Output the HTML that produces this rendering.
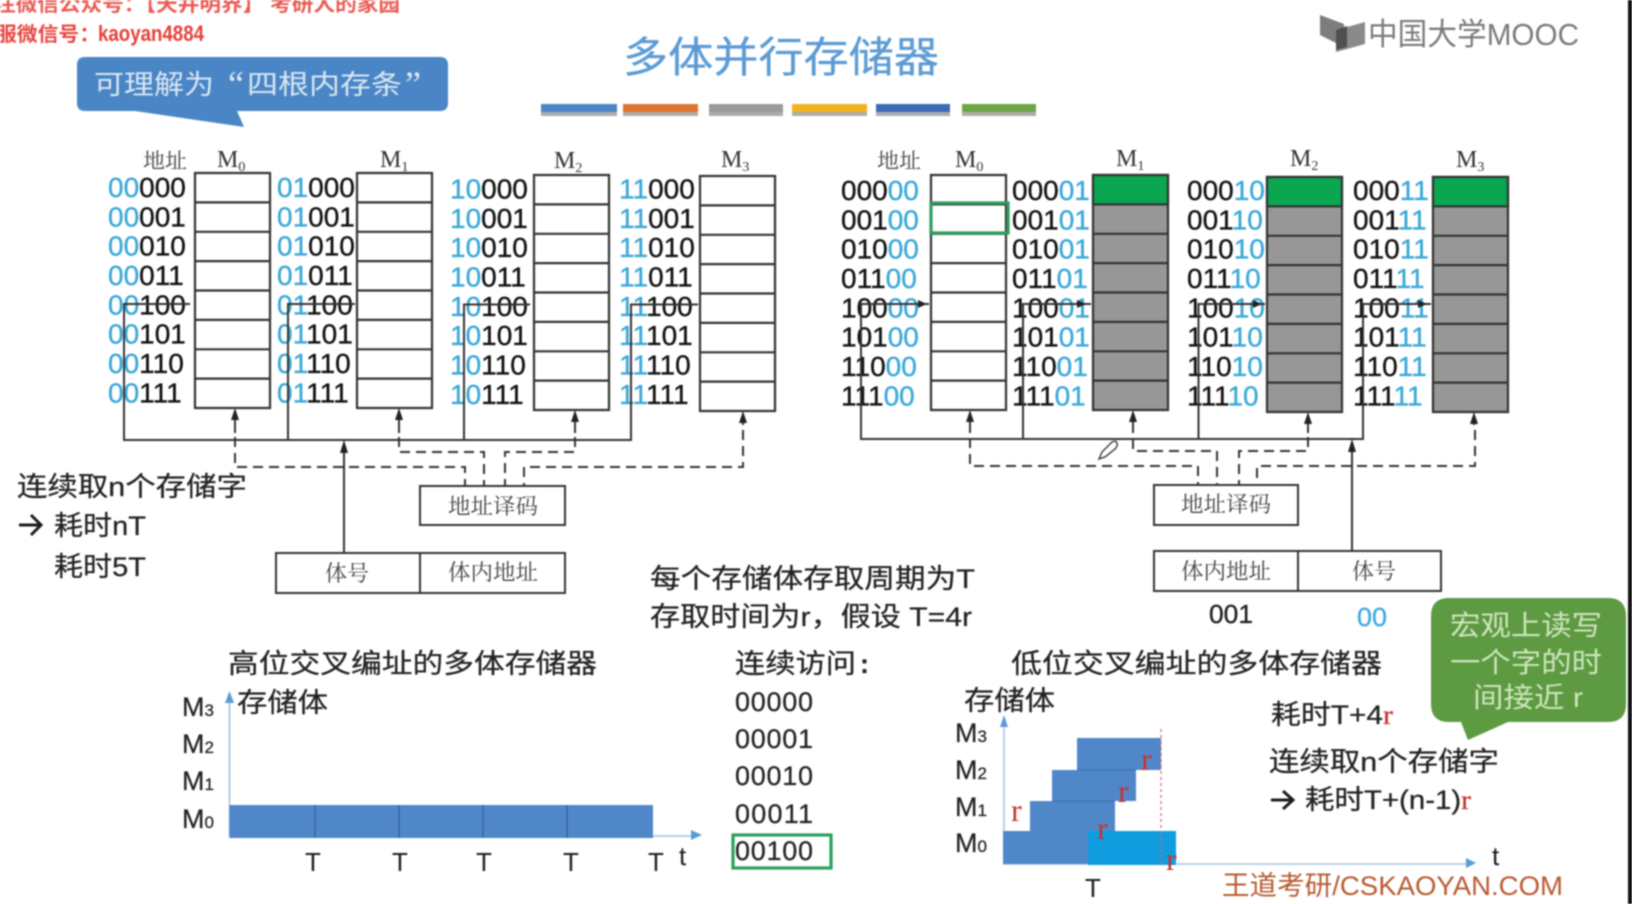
<!DOCTYPE html>
<html>
<head>
<meta charset="utf-8">
<style>
html,body{margin:0;padding:0;background:#fff;width:1632px;height:904px;overflow:hidden}
svg{display:block;filter:blur(.7px)}
text{font-family:"Liberation Sans","Noto Sans CJK SC",sans-serif;fill:#1c1c1c}
.a{font-size:28px;fill:#111;stroke:#111;stroke-width:.35px}
.a tspan{fill:#3aa8d8;stroke:#3aa8d8}
.s{font-family:"Liberation Serif","Noto Serif CJK SC",serif;fill:#444}
.m{font-family:"Liberation Serif","Noto Serif CJK SC",serif;font-size:24px;fill:#333}
.c{font-size:27px;fill:#222;stroke:#222;stroke-width:.25px}
.r{font-family:"Liberation Serif",serif;font-size:32px;fill:#c8322e}
.ln{fill:none;stroke:#333;stroke-width:2}
.d{fill:none;stroke:#333;stroke-width:2;stroke-dasharray:10 6}
</style>
</head>
<body>
<svg width="1632" height="904" viewBox="0 0 1632 904" xmlns="http://www.w3.org/2000/svg">
<defs>
<path id="col" d="M0 0H75V235H0Z M0 29.4H75 M0 58.8H75 M0 88.1H75 M0 117.5H75 M0 146.9H75 M0 176.3H75 M0 205.6H75" stroke="#333" stroke-width="2.2"/>
</defs>
<rect width="1632" height="904" fill="#fff"/>
<rect x="1628" y="0" width="4" height="904" fill="#111"/>

<!-- watermark -->
<text x="-6" y="11" font-size="20" font-weight="bold" style="fill:#ea5a52" textLength="406" lengthAdjust="spacingAndGlyphs">注微信公众号：【天井明界】 考研人的家园</text>
<text x="-4" y="41" font-size="20" font-weight="bold" style="fill:#e8463f" textLength="104" lengthAdjust="spacingAndGlyphs">服微信号：</text>
<text x="98" y="41" font-size="22" font-weight="bold" style="fill:#e5403a" textLength="106" lengthAdjust="spacingAndGlyphs">kaoyan4884</text>

<!-- title -->
<text x="623" y="72" font-size="42" style="fill:#5b9bd5;stroke:#5b9bd5;stroke-width:.3px" textLength="316" lengthAdjust="spacingAndGlyphs">多体并行存储器</text>
<g>
<rect x="541" y="107" width="76" height="9" fill="#777" opacity=".6"/>
<rect x="623" y="107" width="75" height="9" fill="#777" opacity=".6"/>
<rect x="709" y="107" width="74" height="9" fill="#777" opacity=".6"/>
<rect x="792" y="107" width="75" height="9" fill="#777" opacity=".6"/>
<rect x="876" y="107" width="74" height="9" fill="#777" opacity=".6"/>
<rect x="962" y="107" width="74" height="9" fill="#777" opacity=".6"/>
<rect x="541" y="104" width="76" height="8" fill="#4a86c4"/>
<rect x="623" y="104" width="75" height="8" fill="#dd7430"/>
<rect x="709" y="104" width="74" height="8" fill="#9a9a9a"/>
<rect x="792" y="104" width="75" height="8" fill="#f2b31c"/>
<rect x="876" y="104" width="74" height="8" fill="#3d69b5"/>
<rect x="962" y="104" width="74" height="8" fill="#6ba545"/>
</g>

<!-- logo -->
<polygon points="1320,15 1344,24 1344,47 1320,35" fill="#7d7d7d"/>
<polygon points="1336,52 1336,30 1365,22 1365,44" fill="#8a8a8a"/>
<polygon points="1336,30 1347,26 1347,47 1336,50" fill="#4f4f4f"/>
<text x="1368" y="45" font-size="31" style="fill:#7a7a7a" textLength="211" lengthAdjust="spacingAndGlyphs">中国大学MOOC</text>

<!-- blue bubble -->
<path d="M85 57H440Q448 57 448 65V103Q448 111 440 111H237L244 127L135 111H85Q77 111 77 103V65Q77 57 85 57Z" fill="#4a86c5"/>
<text x="94" y="94" font-size="27" style="fill:#dbe7f3" textLength="120" lengthAdjust="spacingAndGlyphs">可理解为</text>
<text x="228" y="96" font-size="36" style="font-family:'Liberation Serif',serif;fill:#dbe7f3">“</text>
<text x="247" y="94" font-size="27" style="fill:#dbe7f3" textLength="155" lengthAdjust="spacingAndGlyphs">四根内存条</text>
<text x="405" y="96" font-size="36" style="font-family:'Liberation Serif',serif;fill:#dbe7f3">”</text>

<!-- LEFT BANK -->
<text class="s" x="143" y="168" font-size="21" textLength="44" lengthAdjust="spacingAndGlyphs">地址</text>
<text class="m" x="217" y="167">M<tspan font-size="14" dy="4">0</tspan></text>
<text class="m" x="380" y="167">M<tspan font-size="14" dy="4">1</tspan></text>
<text class="m" x="554" y="168">M<tspan font-size="14" dy="4">2</tspan></text>
<text class="m" x="721" y="167">M<tspan font-size="14" dy="4">3</tspan></text>

<use href="#col" x="195" y="173" fill="#fff"/>
<use href="#col" x="357" y="173" fill="#fff"/>
<use href="#col" x="534" y="175" fill="#fff"/>
<use href="#col" x="700" y="176" fill="#fff"/>

<text class="a" x="108" y="197"><tspan>00</tspan>000</text>
<text class="a" x="108" y="226.3"><tspan>00</tspan>001</text>
<text class="a" x="108" y="255.6"><tspan>00</tspan>010</text>
<text class="a" x="108" y="285"><tspan>00</tspan>011</text>
<text class="a" x="108" y="314.3"><tspan>00</tspan>100</text>
<text class="a" x="108" y="343.6"><tspan>00</tspan>101</text>
<text class="a" x="108" y="373"><tspan>00</tspan>110</text>
<text class="a" x="108" y="402.3"><tspan>00</tspan>111</text>

<text class="a" x="277" y="197"><tspan>01</tspan>000</text>
<text class="a" x="277" y="226.3"><tspan>01</tspan>001</text>
<text class="a" x="277" y="255.6"><tspan>01</tspan>010</text>
<text class="a" x="277" y="285"><tspan>01</tspan>011</text>
<text class="a" x="277" y="314.3"><tspan>01</tspan>100</text>
<text class="a" x="277" y="343.6"><tspan>01</tspan>101</text>
<text class="a" x="277" y="373"><tspan>01</tspan>110</text>
<text class="a" x="277" y="402.3"><tspan>01</tspan>111</text>

<text class="a" x="450" y="198.5"><tspan>10</tspan>000</text>
<text class="a" x="450" y="227.8"><tspan>10</tspan>001</text>
<text class="a" x="450" y="257.1"><tspan>10</tspan>010</text>
<text class="a" x="450" y="286.5"><tspan>10</tspan>011</text>
<text class="a" x="450" y="315.8"><tspan>10</tspan>100</text>
<text class="a" x="450" y="345.1"><tspan>10</tspan>101</text>
<text class="a" x="450" y="374.5"><tspan>10</tspan>110</text>
<text class="a" x="450" y="403.8"><tspan>10</tspan>111</text>

<text class="a" x="619" y="198.5"><tspan>11</tspan>000</text>
<text class="a" x="619" y="227.8"><tspan>11</tspan>001</text>
<text class="a" x="619" y="257.1"><tspan>11</tspan>010</text>
<text class="a" x="619" y="286.5"><tspan>11</tspan>011</text>
<text class="a" x="619" y="315.8"><tspan>11</tspan>100</text>
<text class="a" x="619" y="345.1"><tspan>11</tspan>101</text>
<text class="a" x="619" y="374.5"><tspan>11</tspan>110</text>
<text class="a" x="619" y="403.8"><tspan>11</tspan>111</text>

<!-- left bus -->
<path class="ln" d="M190 304H124V440H631V304.5H698 M288 440V304H355 M464 440V304.5H530"/>
<path class="ln" d="M235 412V433 M399 412V433 M575 414V433 M743 414V425"/>
<polygon points="235,408 231,420 239,420" fill="#222"/>
<polygon points="399,408 395,420 403,420" fill="#222"/>
<polygon points="575,410 571,422 579,422" fill="#222"/>
<polygon points="743,411 739,423 747,423" fill="#222"/>
<path class="d" d="M235 437V467H465V486 M743 430V467H524V486 M399 437V452H484V486 M575 437V452H505V486"/>
<path class="ln" d="M344 552V445"/>
<polygon points="344,440 340,453 348,453" fill="#222"/>

<rect x="420" y="486" width="145" height="39" fill="#fff" stroke="#333" stroke-width="2"/>
<text class="s" x="448" y="514" font-size="22" textLength="90" lengthAdjust="spacingAndGlyphs">地址译码</text>
<rect x="276" y="553" width="289" height="40" fill="#fff" stroke="#333" stroke-width="2"/>
<path class="ln" d="M420 553V593"/>
<text class="s" x="325" y="581" font-size="22" textLength="44" lengthAdjust="spacingAndGlyphs">体号</text>
<text class="s" x="448" y="580" font-size="22" textLength="90" lengthAdjust="spacingAndGlyphs">体内地址</text>

<!-- RIGHT BANK -->
<text class="s" x="877" y="168" font-size="21" textLength="44" lengthAdjust="spacingAndGlyphs">地址</text>
<text class="m" x="955" y="167">M<tspan font-size="14" dy="4">0</tspan></text>
<text class="m" x="1116" y="166">M<tspan font-size="14" dy="4">1</tspan></text>
<text class="m" x="1290" y="166">M<tspan font-size="14" dy="4">2</tspan></text>
<text class="m" x="1456" y="167">M<tspan font-size="14" dy="4">3</tspan></text>

<use href="#col" x="931" y="175" fill="#fff"/>
<use href="#col" x="1093" y="175" fill="#979797"/>
<use href="#col" x="1267" y="177" fill="#979797"/>
<use href="#col" x="1433" y="177" fill="#979797"/>
<rect x="1093" y="175" width="75" height="29.4" fill="#0aa650" stroke="#333" stroke-width="2.2"/>
<rect x="1267" y="177" width="75" height="29.4" fill="#0aa650" stroke="#333" stroke-width="2.2"/>
<rect x="1433" y="177" width="75" height="29.4" fill="#0aa650" stroke="#333" stroke-width="2.2"/>
<rect x="931" y="203" width="77" height="30" fill="none" stroke="#2c9e5c" stroke-width="3.2"/>

<text class="a" x="841" y="200">000<tspan>00</tspan></text>
<text class="a" x="841" y="229.3">001<tspan>00</tspan></text>
<text class="a" x="841" y="258.6">010<tspan>00</tspan></text>
<text class="a" x="841" y="288">011<tspan>00</tspan></text>
<text class="a" x="841" y="317.3">100<tspan>00</tspan></text>
<text class="a" x="841" y="346.6">101<tspan>00</tspan></text>
<text class="a" x="841" y="376">110<tspan>00</tspan></text>
<text class="a" x="841" y="405.3">111<tspan>00</tspan></text>

<text class="a" x="1012" y="200">000<tspan>01</tspan></text>
<text class="a" x="1012" y="229.3">001<tspan>01</tspan></text>
<text class="a" x="1012" y="258.6">010<tspan>01</tspan></text>
<text class="a" x="1012" y="288">011<tspan>01</tspan></text>
<text class="a" x="1012" y="317.3">100<tspan>01</tspan></text>
<text class="a" x="1012" y="346.6">101<tspan>01</tspan></text>
<text class="a" x="1012" y="376">110<tspan>01</tspan></text>
<text class="a" x="1012" y="405.3">111<tspan>01</tspan></text>

<text class="a" x="1187" y="200">000<tspan>10</tspan></text>
<text class="a" x="1187" y="229.3">001<tspan>10</tspan></text>
<text class="a" x="1187" y="258.6">010<tspan>10</tspan></text>
<text class="a" x="1187" y="288">011<tspan>10</tspan></text>
<text class="a" x="1187" y="317.3">100<tspan>10</tspan></text>
<text class="a" x="1187" y="346.6">101<tspan>10</tspan></text>
<text class="a" x="1187" y="376">110<tspan>10</tspan></text>
<text class="a" x="1187" y="405.3">111<tspan>10</tspan></text>

<text class="a" x="1353" y="200">000<tspan>11</tspan></text>
<text class="a" x="1353" y="229.3">001<tspan>11</tspan></text>
<text class="a" x="1353" y="258.6">010<tspan>11</tspan></text>
<text class="a" x="1353" y="288">011<tspan>11</tspan></text>
<text class="a" x="1353" y="317.3">100<tspan>11</tspan></text>
<text class="a" x="1353" y="346.6">101<tspan>11</tspan></text>
<text class="a" x="1353" y="376">110<tspan>11</tspan></text>
<text class="a" x="1353" y="405.3">111<tspan>11</tspan></text>

<!-- right bus -->
<path class="ln" d="M929 304H861V439H1363V304H1431 M1023 439V304H1091 M1198.5 439V304H1265"/>
<polygon points="927,304 918,300 918,308" fill="#222"/>
<polygon points="1086,304 1077,300 1077,308" fill="#222"/>
<polygon points="1262,304 1253,300 1253,308" fill="#222"/>
<polygon points="1427,304 1418,300 1418,308" fill="#222"/>
<path class="ln" d="M970 414V433 M1133 414V433 M1308 416V433 M1474 416V425"/>
<polygon points="970,410 966,422 974,422" fill="#222"/>
<polygon points="1133,410 1129,422 1137,422" fill="#222"/>
<polygon points="1308,412 1304,424 1312,424" fill="#222"/>
<polygon points="1474,412 1470,424 1478,424" fill="#222"/>
<path class="d" d="M970 438V466H1198V485 M1475 430V466H1257V485 M1133 439V451H1217V485 M1308 437V451H1239V485"/>
<path class="ln" d="M1352 551V444"/>
<polygon points="1352,439 1348,452 1356,452" fill="#222"/>
<path d="M1099 459L1102 452L1112 442Q1116 440 1117 443Q1118 446 1115 449L1105 457Z" fill="#fff" stroke="#444" stroke-width="1.5"/>

<rect x="1154" y="485" width="144" height="40" fill="#fff" stroke="#333" stroke-width="2"/>
<text class="s" x="1181" y="512" font-size="22" textLength="90" lengthAdjust="spacingAndGlyphs">地址译码</text>
<rect x="1154" y="551" width="287" height="40" fill="#fff" stroke="#333" stroke-width="2"/>
<path class="ln" d="M1298 551V591"/>
<text class="s" x="1181" y="579" font-size="22" textLength="90" lengthAdjust="spacingAndGlyphs">体内地址</text>
<text class="s" x="1352" y="579" font-size="22" textLength="44" lengthAdjust="spacingAndGlyphs">体号</text>
<text x="1209" y="623" font-size="26" style="stroke:#1c1c1c;stroke-width:.3px" textLength="44" lengthAdjust="spacingAndGlyphs">001</text>
<text x="1357" y="626" font-size="26" style="fill:#3aa8e0;stroke:#3aa8e0;stroke-width:.3px" textLength="30" lengthAdjust="spacingAndGlyphs">00</text>

<!-- left text -->
<text class="c" x="17" y="496" textLength="230" lengthAdjust="spacingAndGlyphs">连续取n个存储字</text>
<path d="M19 525H40 M31 515L41 525L31 535" fill="none" stroke="#1c1c1c" stroke-width="3"/>
<text class="c" x="54" y="535" textLength="92" lengthAdjust="spacingAndGlyphs">耗时nT</text>
<text class="c" x="54" y="576" textLength="92" lengthAdjust="spacingAndGlyphs">耗时5T</text>

<!-- middle text -->
<text class="c" x="650" y="588" textLength="325" lengthAdjust="spacingAndGlyphs">每个存储体存取周期为T</text>
<text class="c" x="650" y="626" textLength="322" lengthAdjust="spacingAndGlyphs">存取时间为r，假设 T=4r</text>
<text class="c" x="228" y="673" textLength="369" lengthAdjust="spacingAndGlyphs">高位交叉编址的多体存储器</text>
<text class="c" x="735" y="673" textLength="121" lengthAdjust="spacingAndGlyphs">连续访问</text>
<text class="c" x="860" y="673" font-weight="bold">:</text>

<!-- left chart -->
<text class="c" x="237" y="712" textLength="91" lengthAdjust="spacingAndGlyphs">存储体</text>
<text class="c" x="182" y="716">M<tspan font-size="17">3</tspan></text>
<text class="c" x="182" y="753">M<tspan font-size="17">2</tspan></text>
<text class="c" x="182" y="790">M<tspan font-size="17">1</tspan></text>
<text class="c" x="182" y="828">M<tspan font-size="17">0</tspan></text>
<path d="M229.5 700V836H695" fill="none" stroke="#9cc0e4" stroke-width="1.6"/>
<polygon points="229.5,691 225,703 234,703" fill="#5b9bd5"/>
<polygon points="702,835 691,830 691,840" fill="#5b9bd5"/>
<rect x="229.5" y="805" width="423.5" height="33" fill="#4f87c9"/>
<path d="M315 805V838 M399 805V838 M483 805V838 M567 805V838" stroke="#2f5f97" stroke-width="1.2"/>
<text x="305" y="871" font-size="26">T</text>
<text x="392" y="871" font-size="26">T</text>
<text x="476" y="871" font-size="26">T</text>
<text x="563" y="871" font-size="26">T</text>
<text x="648" y="871" font-size="26">T</text>
<text x="679" y="865" font-size="26">t</text>

<!-- sequence -->
<text class="c" x="735" y="711" textLength="78">00000</text>
<text class="c" x="735" y="748" textLength="78">00001</text>
<text class="c" x="735" y="785" textLength="78">00010</text>
<text class="c" x="735" y="823" textLength="78">00011</text>
<text class="c" x="735" y="860" textLength="78">00100</text>
<rect x="733" y="835" width="98" height="33" fill="none" stroke="#2aa05c" stroke-width="3.2"/>

<!-- right chart -->
<text class="c" x="1011" y="673" textLength="371" lengthAdjust="spacingAndGlyphs">低位交叉编址的多体存储器</text>
<text class="c" x="964" y="710" textLength="91" lengthAdjust="spacingAndGlyphs">存储体</text>
<text class="c" x="955" y="742">M<tspan font-size="17">3</tspan></text>
<text class="c" x="955" y="779">M<tspan font-size="17">2</tspan></text>
<text class="c" x="955" y="816">M<tspan font-size="17">1</tspan></text>
<text class="c" x="955" y="852">M<tspan font-size="17">0</tspan></text>
<path d="M1004 724V864H1470" fill="none" stroke="#a8c6e6" stroke-width="1.6"/>
<polygon points="1004,715 1000,727 1008,727" fill="#5b9bd5"/>
<polygon points="1476,863 1466,858 1466,868" fill="#5b9bd5"/>
<rect x="1077" y="738" width="84" height="32" fill="#4f87c9"/>
<rect x="1052" y="770" width="84" height="31" fill="#4f87c9"/>
<rect x="1030" y="801" width="85" height="30" fill="#4f87c9"/>
<rect x="1003" y="831" width="85" height="33" fill="#4f87c9"/>
<rect x="1088" y="831" width="88" height="34" fill="#0f9de0"/>
<path d="M1077 770H1136 M1052 801H1115" stroke="#3a6ea8" stroke-width="1"/>
<path d="M1161 729V865" stroke="#e0606a" stroke-width="1.2" stroke-dasharray="3 3"/>
<text class="r" x="1141" y="770">r</text>
<text class="r" x="1118" y="802">r</text>
<text class="r" x="1011" y="821">r</text>
<text class="r" x="1097" y="839">r</text>
<text class="r" x="1166" y="870">r</text>
<text x="1492" y="865" font-size="26">t</text>
<text x="1085" y="897" font-size="26">T</text>

<text class="c" x="1271" y="724" textLength="122" lengthAdjust="spacingAndGlyphs">耗时T+4<tspan style="fill:#c8322e;stroke:#c8322e;font-family:'Liberation Serif',serif">r</tspan></text>
<text class="c" x="1269" y="771" textLength="230" lengthAdjust="spacingAndGlyphs">连续取n个存储字</text>
<path d="M1271 800H1292 M1283 791L1293 800L1283 809" fill="none" stroke="#1c1c1c" stroke-width="3"/>
<text class="c" x="1305" y="809" textLength="166" lengthAdjust="spacingAndGlyphs">耗时T+(n-1)<tspan style="fill:#c8322e;stroke:#c8322e;font-family:'Liberation Serif',serif">r</tspan></text>
<text x="1222" y="895" font-size="27" style="fill:#b85a30" textLength="341" lengthAdjust="spacingAndGlyphs">王道考研/CSKAOYAN.COM</text>

<!-- green bubble -->
<path d="M1449 598H1608Q1626 598 1626 616V704Q1626 722 1608 722H1508L1468 740L1461 722H1449Q1431 722 1431 704V616Q1431 598 1449 598Z" fill="#5d9a42"/>
<text x="1450" y="635" font-size="28" style="fill:#cfe6bd" textLength="152" lengthAdjust="spacingAndGlyphs">宏观上读写</text>
<text x="1450" y="672" font-size="28" style="fill:#cfe6bd" textLength="152" lengthAdjust="spacingAndGlyphs">一个字的时</text>
<text x="1473" y="707" font-size="28" style="fill:#cfe6bd" textLength="110" lengthAdjust="spacingAndGlyphs">间接近 r</text>
</svg>
</body>
</html>
